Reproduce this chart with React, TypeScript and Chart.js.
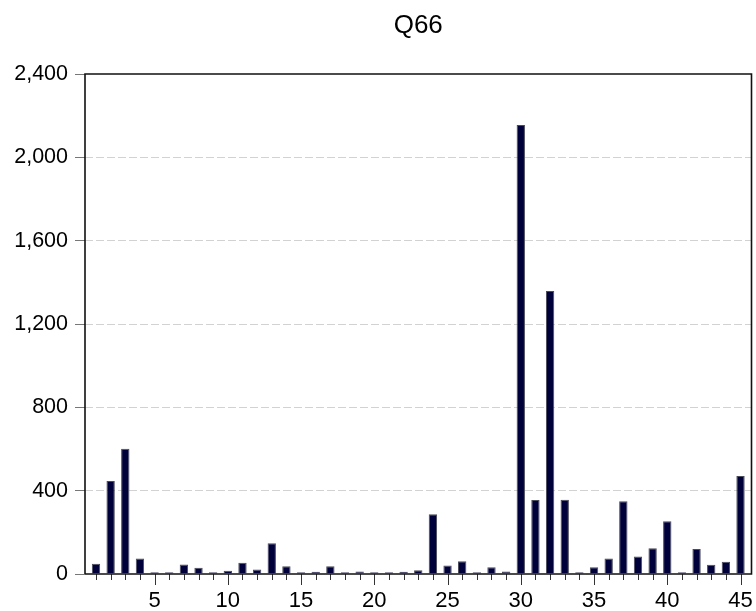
import React, { useEffect, useRef } from "react";
import { Chart, registerables } from "chart.js";

Chart.register(...registerables);

const title = "Q66";
const categories = [
  1, 2, 3, 4, 5, 6, 7, 8, 9, 10, 11, 12, 13, 14, 15,
  16, 17, 18, 19, 20, 21, 22, 23, 24, 25, 26, 27, 28, 29, 30,
  31, 32, 33, 34, 35, 36, 37, 38, 39, 40, 41, 42, 43, 44, 45,
];
const values = [
  49, 446, 601, 75, 9, 9, 46, 30, 9, 16, 54, 22, 148, 37, 9,
  11, 37, 9, 12, 9, 9, 11, 18, 287, 41, 61, 9, 32, 12, 2155,
  355, 1359, 357, 9, 33, 75, 349, 84, 124, 253, 9, 120, 45, 59, 470,
];
const xTickLabels = [5, 10, 15, 20, 25, 30, 35, 40, 45];
const yTicks = [0, 400, 800, 1200, 1600, 2000, 2400];

const FONT = "'Liberation Sans', Arial, sans-serif";

const framePlugin = {
  id: "frame",
  afterDatasetsDraw(chart: any) {
    const { ctx, chartArea } = chart;
    const { left, right, top, bottom } = chartArea;
    const xs = chart.scales.x;
    ctx.save();
    // x tick marks
    ctx.strokeStyle = "#333";
    ctx.lineWidth = 1;
    categories.forEach((c) => {
      const px = Math.round(xs.getPixelForValue(c)) + 0.5;
      const len = xTickLabels.includes(c) ? 11 : 6;
      ctx.beginPath();
      ctx.moveTo(px, bottom);
      ctx.lineTo(px, bottom + len);
      ctx.stroke();
    });
    // frame
    ctx.strokeStyle = "#111";
    ctx.lineWidth = 1.6;
    ctx.beginPath();
    ctx.moveTo(left, bottom);
    ctx.lineTo(left, top);
    ctx.lineTo(right, top);
    ctx.lineTo(right, bottom);
    ctx.lineTo(left, bottom);
    ctx.stroke();
    // title
    ctx.fillStyle = "#000";
    ctx.font = `26px ${FONT}`;
    ctx.textAlign = "center";
    ctx.textBaseline = "alphabetic";
    ctx.fillText(title, (left + right) / 2, 32.5);
    ctx.restore();
  },
};

export default function App() {
  const ref = useRef<HTMLCanvasElement>(null);
  useEffect(() => {
    if (!ref.current) return;
    const chart = new Chart(ref.current, {
      type: "bar",
      data: {
        datasets: [
          {
            data: categories.map((c, i) => ({ x: c, y: values[i] })),
            backgroundColor: "#00003a",
            borderColor: "#4a4a5a",
            borderWidth: 1,
            barPercentage: 0.57,
            categoryPercentage: 1,
          },
        ],
      },
      options: {
        responsive: false,
        maintainAspectRatio: false,
        animation: false,
        layout: { padding: { top: 74, right: 4.5, left: 0, bottom: 0 } },
        plugins: {
          legend: { display: false },
          tooltip: { enabled: false },
          title: { display: false },
        },
        scales: {
          x: {
            type: "linear",
            offset: false,
            min: 0.25,
            max: 45.75,
            grid: { display: false, drawTicks: false },
            border: { display: false },
            afterBuildTicks: (axis: any) => {
              axis.ticks = xTickLabels.map((v) => ({ value: v }));
            },
            afterFit: (axis: any) => {
              axis.height = 37;
              axis.paddingLeft = 0;
              axis.paddingRight = 0;
            },
            ticks: {
              autoSkip: false,
              maxRotation: 0,
              padding: 13.5,
              color: "#000",
              font: { family: FONT, size: 22 },
              callback: (v: any) => String(v),
            },
          },
          y: {
            min: 0,
            max: 2400,
            afterBuildTicks: (axis: any) => {
              axis.ticks = yTicks.map((v) => ({ value: v }));
            },
            afterFit: (axis: any) => {
              axis.width = 85;
              axis.paddingTop = 0;
              axis.paddingBottom = 0;
            },
            border: { display: false, dash: [8, 3] },
            grid: {
              color: (ctx: any) =>
                ctx.tick && (ctx.tick.value === 0 || ctx.tick.value === 2400)
                  ? "rgba(0,0,0,0)"
                  : "#d2d2d2",
              tickBorderDash: [],
              tickColor: "#777",
              tickLength: 10,
              lineWidth: 1,
            },
            ticks: {
              padding: 7,
              color: "#000",
              font: { family: FONT, size: 21.5 },
              callback: (v: any) => Number(v).toLocaleString("en-US"),
            },
          },
        },
      },
      plugins: [framePlugin],
    });
    return () => chart.destroy();
  }, []);
  return (
    <div style={{ position: "fixed", left: 0, top: 0, width: 756, height: 611 }}>
      <canvas ref={ref} width={756} height={611} style={{ display: "block", width: 756, height: 611 }} />
    </div>
  );
}
